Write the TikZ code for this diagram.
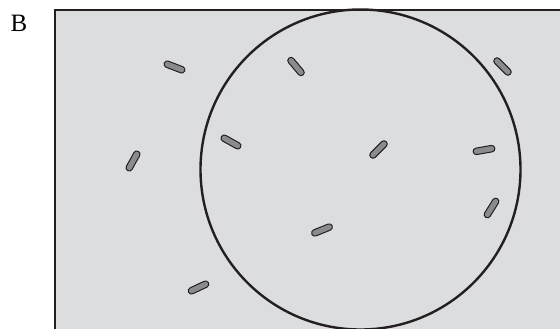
\documentclass[tikz,border=0pt]{standalone}
\usepackage{fontspec}
\setmainfont{Liberation Serif}
\definecolor{bggrey}{HTML}{DCDDDF}
\definecolor{rodgrey}{HTML}{8A8B8D}
\definecolor{ink}{HTML}{231F20}
\tikzset{
  rod/.style={draw=ink, fill=rodgrey, line width=1pt, rectangle, rounded corners=3.25pt,
    minimum width=22pt, minimum height=6.5pt, inner sep=0pt},
  frameline/.style={draw=ink, line width=2.2pt},
  ring/.style={draw=ink, line width=2.4pt}
}
\begin{document}
\begin{tikzpicture}[x=1pt,y=-1pt]
\useasboundingbox (0,0) rectangle (560,329);
\fill[bggrey] (55,10) rectangle (562,331);
\draw[frameline] (55,331) coordinate (bl) -- (55,10) coordinate (tl) -- (562,10) coordinate (tr);
\node[anchor=base, font=\fontsize{25}{28}\selectfont, inner sep=0pt] (lab) at (19,32) {B};
\node[ring, circle, minimum size=320pt, inner sep=0pt] (c) at (360.5,169.5) {};
\node[rod, rotate=-21] (r1) at (174.5,67) {};
\node[rod, rotate=61] (r2) at (133,161) {};
\node[rod, rotate=-29] (r3) at (231,142) {};
\node[rod, rotate=-50] (r4) at (296,66.5) {};
\node[rod, rotate=-45] (r5) at (502.5,66.5) {};
\node[rod, rotate=45] (r6) at (378.5,149.5) {};
\node[rod, rotate=10] (r7) at (484,150) {};
\node[rod, rotate=58] (r8) at (491.5,208) {};
\node[rod, rotate=22] (r9) at (322,230) {};
\node[rod, rotate=25] (r10) at (198.5,287.5) {};
\end{tikzpicture}
\end{document}
